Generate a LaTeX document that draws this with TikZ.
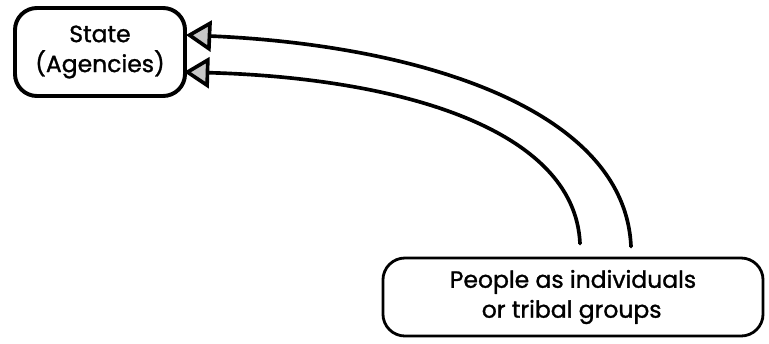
\documentclass[tikz,border=0pt]{standalone}
\usepackage{fontspec}
\setmainfont{Poppins}[FakeBold=1.2]
\usetikzlibrary{arrows.meta}

\begin{document}
\begin{tikzpicture}[x=0.025cm,y=-0.025cm,line join=round,line cap=round,
	box/.style={draw,rounded corners=0.55cm,align=left,font=\fontsize{16.7}{21.3}\selectfont},
	flow/.style={line width=2.6pt,-{Triangle[length=18pt,width=22pt,fill=gray!45,line join=miter]}}]
	\useasboundingbox (0,0) rectangle (769,343);
	\node[box,line width=2.8pt,minimum width=4.25cm,minimum height=2.2cm] (state) at (100,52)
		{\hspace*{1.45em}State\\(Agencies)};
	\node[box,line width=2pt,minimum width=9.5cm,minimum height=1.95cm] (people) at (573,297)
		{People as individuals\\\hspace*{1.36em}or tribal groups};
	\draw[flow] ([shift={(58,-10)}]people.north) .. controls +(-6,-138) and +(232,10) .. ([shift={(-1,-17)}]state.east);
	\draw[flow] ([shift={(7,-13)}]people.north) .. controls +(-5,-115) and +(215,6) .. ([shift={(-3,20)}]state.east);
\end{tikzpicture}
\end{document}
